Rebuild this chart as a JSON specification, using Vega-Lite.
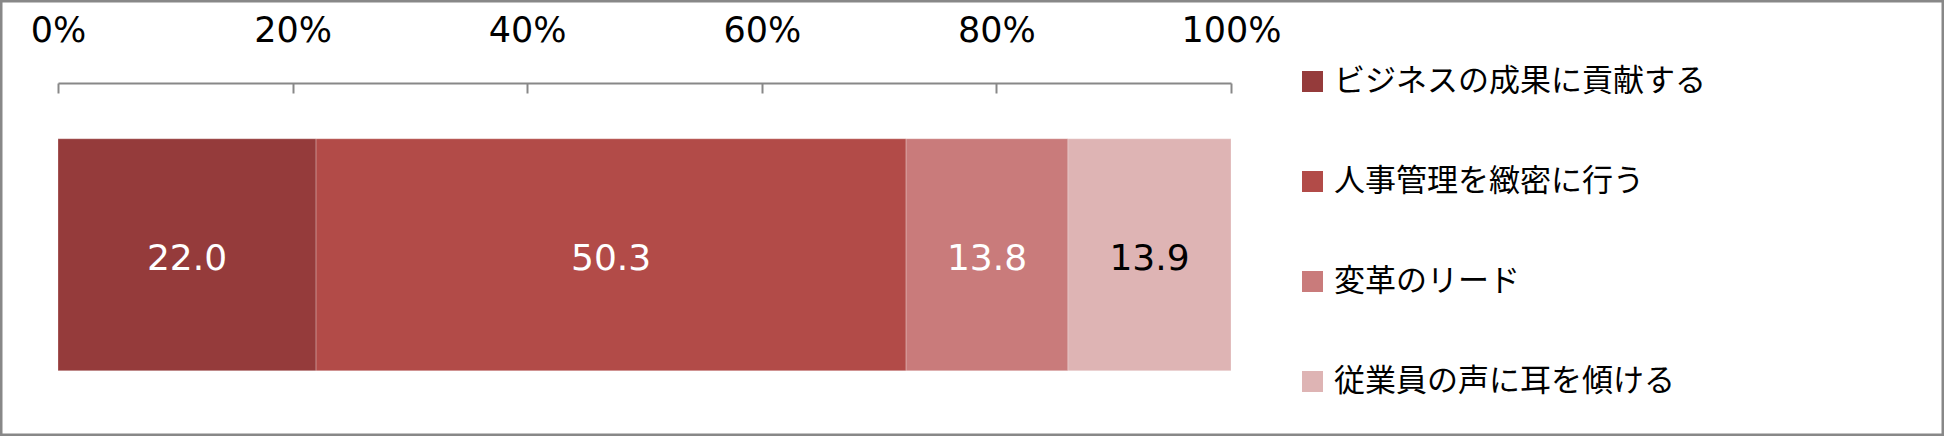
{
  "$schema": "https://vega.github.io/schema/vega-lite/v6.json",
  "width": 1944,
  "height": 436,
  "autosize": {"type": "none"},
  "padding": 0,
  "background": "white",
  "config": {
    "view": {"stroke": "#888888", "strokeWidth": 5},
    "font": "DejaVu Sans"
  },
  "data": {
    "values": [
      {"row": "all", "category": "ビジネスの成果に貢献する", "value": 22.0, "rank": 1},
      {"row": "all", "category": "人事管理を緻密に行う", "value": 50.3, "rank": 2},
      {"row": "all", "category": "変革のリード", "value": 13.8, "rank": 3},
      {"row": "all", "category": "従業員の声に耳を傾ける", "value": 13.9, "rank": 4}
    ]
  },
  "transform": [
    {"stack": "value", "groupby": ["row"], "sort": [{"field": "rank", "order": "ascending"}], "offset": "normalize", "as": ["x0", "x1"]}
  ],
  "encoding": {
    "y": {
      "field": "row",
      "type": "nominal",
      "axis": null,
      "scale": {"paddingInner": 0, "paddingOuter": 0.44, "align": 0.68}
    }
  },
  "layer": [
    {
      "mark": {"type": "bar", "stroke": "white", "strokeWidth": 1, "strokeOpacity": 0.25},
      "encoding": {
        "x": {
          "field": "x0",
          "type": "quantitative",
          "scale": {"domain": [0, 1], "range": [58, 1231], "nice": false},
          "axis": {
            "orient": "top",
            "offset": -83,
            "values": [0, 0.2, 0.4, 0.6, 0.8, 1],
            "format": ".0%",
            "title": null,
            "grid": false,
            "domainColor": "#888888",
            "domainWidth": 2,
            "tickColor": "#888888",
            "tickWidth": 2,
            "tickSize": -10,
            "labelPadding": 45,
            "labelFont": "DejaVu Sans",
            "labelFontSize": 35,
            "labelColor": "#000000",
            "labelFlush": false
          }
        },
        "x2": {"field": "x1"},
        "color": {
          "field": "category",
          "type": "nominal",
          "scale": {
            "domain": ["ビジネスの成果に貢献する", "人事管理を緻密に行う", "変革のリード", "従業員の声に耳を傾ける"],
            "range": ["#953B3B", "#B24B48", "#C97B7B", "#DEB4B4"]
          },
          "legend": {
            "title": null,
            "orient": "none",
            "legendX": 1297,
            "legendY": 66,
            "padding": 0,
            "symbolType": "square",
            "symbolSize": 441,
            "symbolStrokeWidth": 0,
            "labelFont": "Noto Sans CJK JP",
            "labelFontSize": 31,
            "labelColor": "#000000",
            "labelOffset": 6,
            "rowPadding": 68,
            "labelLimit": 600
          }
        }
      }
    },
    {
      "transform": [
        {"fold": ["x0", "x1"], "as": ["edge", "pos"]},
        {"aggregate": [{"op": "mean", "field": "pos", "as": "mid"}, {"op": "max", "field": "value", "as": "value"}], "groupby": ["row", "category", "rank"]}
      ],
      "mark": {"type": "text", "font": "DejaVu Sans", "fontSize": 36, "dy": 4},
      "encoding": {
        "x": {"field": "mid", "type": "quantitative"},
        "text": {"field": "value", "type": "quantitative", "format": ".1f"},
        "color": {
          "field": "category",
          "type": "nominal",
          "scale": {
            "domain": ["ビジネスの成果に貢献する", "人事管理を緻密に行う", "変革のリード", "従業員の声に耳を傾ける"],
            "range": ["#FFFFFF", "#FFFFFF", "#FFFFFF", "#000000"]
          },
          "legend": null
        }
      }
    }
  ],
  "resolve": {"scale": {"color": "independent"}}
}
